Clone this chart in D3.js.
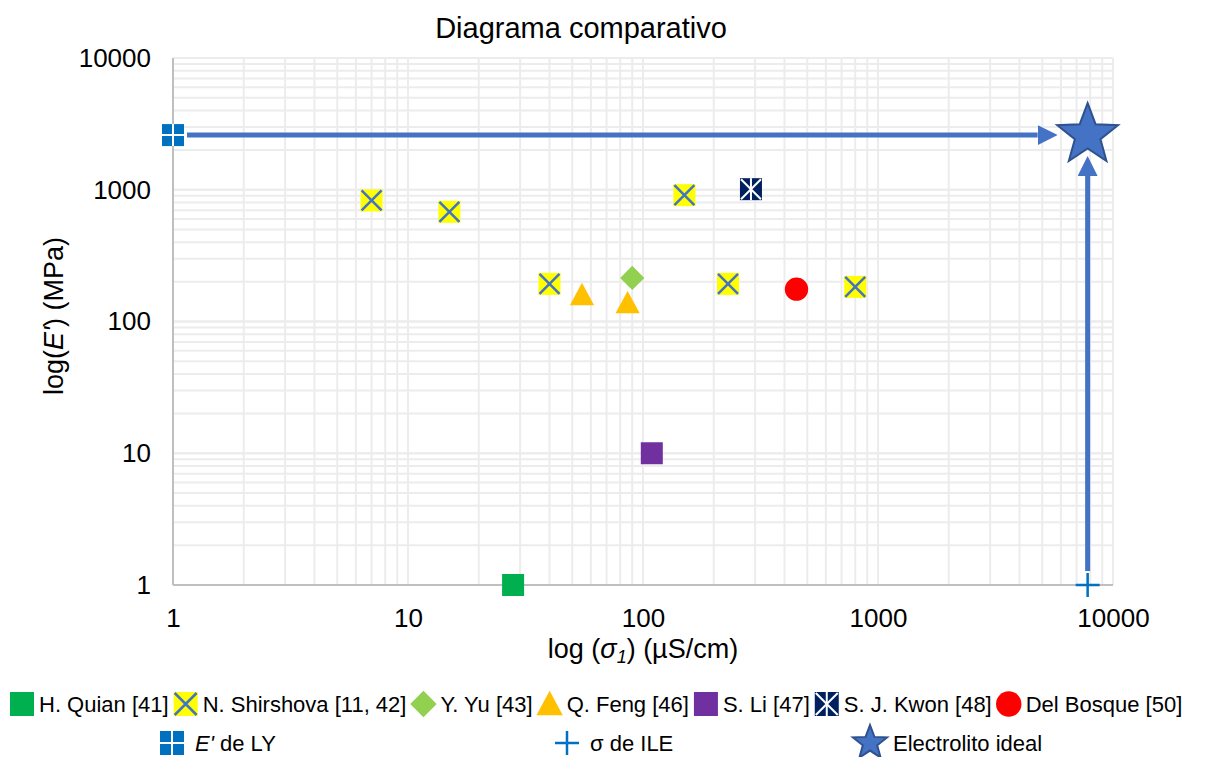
<!DOCTYPE html>
<html lang="es">
  <head>
    <meta charset="utf-8">
    <title>Diagrama comparativo</title>
    <script src="https://cdn.jsdelivr.net/npm/d3@7"></script>
    <style>
      body { margin: 0; background: #fff; }
      text { font-family: "Liberation Sans", Arial, sans-serif; fill: #000; }
      .grid line { stroke: #ececec; stroke-width: 2; }
      .axisline { stroke: #bfbfbf; stroke-width: 2; }
    </style>
  </head>
  <body>
    <script>
      // data: conductivity (uS/cm) and modulus (MPa)
      var quianX = [28], quianY = [1];
      var shirshovaX = [7, 15, 40, 150, 230, 800];
      var shirshovaY = [830, 680, 193, 910, 193, 183];
      var yuX = [90], yuY = [214];
      var fengX = [55, 86], fengY = [159, 138];
      var liX = [109], liY = [10];
      var kwonX = [288], kwonY = [1010];
      var bosqueX = [450], bosqueY = [176];
      var lyX = [1], lyY = [2600];
      var ileX = [7800], ileY = [1];
      var idealX = [7800], idealY = [2600];

      var xTicks = [1, 10, 100, 1000, 10000];
      var yTicks = [1, 10, 100, 1000, 10000];

      var w = 1212, h = 757;
      var pLeft = 173, pRight = 1113, pTop = 58, pBottom = 585;

      var svg = d3.select("body").append("svg")
                  .attr("width", w)
                  .attr("height", h);

      var xScale = d3.scaleLog().domain([1, 10000]).range([pLeft, pRight]);
      var yScale = d3.scaleLog().domain([1, 10000]).range([pBottom, pTop]);

      // minor + major grid
      var minor = [];
      for (var d = 1; d < 10000; d *= 10) {
        for (var k = 1; k <= 10; k++) minor.push(d * k);
      }
      var grid = svg.append("g").attr("class", "grid");
      grid.selectAll("line.vx")
          .data(minor)
          .enter().append("line")
          .attr("class", "vx")
          .attr("x1", function (d) { return xScale(d); })
          .attr("x2", function (d) { return xScale(d); })
          .attr("y1", pTop).attr("y2", pBottom);
      grid.selectAll("line.hy")
          .data(minor)
          .enter().append("line")
          .attr("class", "hy")
          .attr("y1", function (d) { return yScale(d); })
          .attr("y2", function (d) { return yScale(d); })
          .attr("x1", pLeft).attr("x2", pRight);

      // axes
      var xAxis = d3.axisBottom(xScale).tickValues(xTicks).tickFormat(d3.format("d")).tickSize(0).tickPadding(24);
      var yAxis = d3.axisLeft(yScale).tickValues(yTicks).tickFormat(d3.format("d")).tickSize(0).tickPadding(22);
      var gx = svg.append("g").attr("transform", "translate(0," + pBottom + ")").call(xAxis);
      var gy = svg.append("g").attr("transform", "translate(" + pLeft + ",0)").call(yAxis);
      [gx, gy].forEach(function (g) {
        g.select(".domain").remove();
        g.selectAll("text").attr("font-size", 26).attr("font-family", "Liberation Sans, Arial, sans-serif").attr("fill", "#000");
      });
      svg.append("line").attr("class", "axisline")
         .attr("x1", pLeft).attr("x2", pLeft).attr("y1", pTop).attr("y2", pBottom);
      svg.append("line").attr("class", "axisline")
         .attr("x1", pLeft).attr("x2", pRight).attr("y1", pBottom).attr("y2", pBottom);

      // titles
      svg.append("text").attr("x", 581).attr("y", 38)
         .attr("text-anchor", "middle").attr("font-size", 29)
         .text("Diagrama comparativo");

      var xt = svg.append("text").attr("x", 643).attr("y", 658)
                  .attr("text-anchor", "middle").attr("font-size", 27);
      xt.append("tspan").text("log (");
      xt.append("tspan").attr("font-style", "italic").text("σ");
      xt.append("tspan").attr("font-style", "italic").attr("font-size", 18).attr("dy", 5).text("1");
      xt.append("tspan").attr("dy", -5).text(") (µS/cm)");

      var yt = svg.append("text")
                  .attr("transform", "translate(63,316) rotate(-90)")
                  .attr("text-anchor", "middle").attr("font-size", 27);
      yt.append("tspan").text("log(");
      yt.append("tspan").attr("font-style", "italic").text("E'");
      yt.append("tspan").text(") (MPa)");

      // arrows
      var blue = "#4472C4";
      var defs = svg.append("defs");
      defs.append("marker").attr("id", "head")
          .attr("viewBox", "0 0 10 10").attr("refX", 0).attr("refY", 5)
          .attr("markerWidth", 20).attr("markerHeight", 20)
          .attr("markerUnits", "userSpaceOnUse").attr("orient", "auto")
          .append("path").attr("d", "M0,0 L10,5 L0,10 Z").attr("fill", blue);

      svg.append("line")
         .attr("x1", xScale(lyX[0]) + 14).attr("y1", yScale(lyY[0]))
         .attr("x2", xScale(idealX[0]) - 50).attr("y2", yScale(idealY[0]))
         .attr("stroke", blue).attr("stroke-width", 5).attr("marker-end", "url(#head)");
      svg.append("line")
         .attr("x1", xScale(ileX[0])).attr("y1", yScale(ileY[0]) - 14)
         .attr("x2", xScale(idealX[0])).attr("y2", yScale(idealY[0]) + 41)
         .attr("stroke", blue).attr("stroke-width", 5).attr("marker-end", "url(#head)");

      // marker painters
      function square(g, s, fill) {
        g.append("rect").attr("x", -s / 2).attr("y", -s / 2).attr("width", s).attr("height", s).attr("fill", fill);
      }
      function cross(g, s, col, sw) {
        var a = s / 2 - 1;
        g.append("path").attr("d", "M" + (-a) + "," + (-a) + "L" + a + "," + a + "M" + (-a) + "," + a + "L" + a + "," + (-a))
         .attr("stroke", col).attr("stroke-width", sw);
      }
      var painters = {
        quian: function (g, s) { square(g, s, "#00B050"); },
        shirshova: function (g, s) { square(g, s, "#FFFF00"); cross(g, s, blue, 2.5); },
        yu: function (g, s) {
          var r = s * 0.55;
          g.append("path").attr("d", "M0," + (-r) + "L" + r + ",0L0," + r + "L" + (-r) + ",0Z").attr("fill", "#92D050");
        },
        feng: function (g, s) {
          var r = s * 0.55;
          g.append("path").attr("d", "M0," + (-r) + "L" + r + "," + r * 0.85 + "L" + (-r) + "," + r * 0.85 + "Z").attr("fill", "#FFC000");
        },
        li: function (g, s) { square(g, s, "#7030A0"); },
        kwon: function (g, s) {
          square(g, s, "#002060"); cross(g, s, "#fff", 2);
          g.append("line").attr("x1", 0).attr("x2", 0).attr("y1", -s / 2).attr("y2", s / 2).attr("stroke", "#fff").attr("stroke-width", 2);
        },
        bosque: function (g, s) { g.append("circle").attr("r", s * 0.53).attr("fill", "#FF0000"); },
        ly: function (g, s) {
          square(g, s, "#0070C0");
          g.append("path").attr("d", "M0," + (-s / 2) + "V" + s / 2 + "M" + (-s / 2) + ",0H" + s / 2).attr("stroke", "#fff").attr("stroke-width", 2);
        },
        ile: function (g, s) {
          var a = s / 2;
          g.append("path").attr("d", "M0," + (-a) + "V" + a + "M" + (-a) + ",0H" + a).attr("stroke", "#0070C0").attr("stroke-width", 2.5);
        },
        ideal: function (g, s) {
          var pts = [];
          for (var i = 0; i < 10; i++) {
            var r = i % 2 === 0 ? s : s * 0.42;
            var ang = -Math.PI / 2 + i * Math.PI / 5;
            pts.push([r * Math.cos(ang), r * Math.sin(ang)]);
          }
          g.append("path").attr("d", d3.line()(pts) + "Z").attr("fill", blue).attr("stroke", "#2F528F").attr("stroke-width", 2);
        }
      };

      var series = [
        { key: "quian", name: "H. Quian [41]", x: quianX, y: quianY, size: 22 },
        { key: "shirshova", name: "N. Shirshova [11, 42]", x: shirshovaX, y: shirshovaY, size: 22 },
        { key: "yu", name: "Y. Yu [43]", x: yuX, y: yuY, size: 22 },
        { key: "feng", name: "Q. Feng [46]", x: fengX, y: fengY, size: 22 },
        { key: "li", name: "S. Li [47]", x: liX, y: liY, size: 22 },
        { key: "kwon", name: "S. J. Kwon [48]", x: kwonX, y: kwonY, size: 22 },
        { key: "bosque", name: "Del Bosque [50]", x: bosqueX, y: bosqueY, size: 22 },
        { key: "ly", name: "E' de LY", x: lyX, y: lyY, size: 22 },
        { key: "ile", name: "σ de ILE", x: ileX, y: ileY, size: 24 },
        { key: "ideal", name: "Electrolito ideal", x: idealX, y: idealY, size: 32 }
      ];

      var pts = svg.append("g");
      series.forEach(function (s) {
        var data = s.x.map(function (v, i) { return [v, s.y[i]]; });
        pts.selectAll("g." + s.key)
           .data(data)
           .enter().append("g")
           .attr("class", s.key)
           .attr("transform", function (d) { return "translate(" + xScale(d[0]) + "," + yScale(d[1]) + ")"; })
           .each(function () { painters[s.key](d3.select(this), s.size); });
      });

      // legend row 1: laid out one after another
      var lg = svg.append("g");
      var cx = 10;
      series.slice(0, 7).forEach(function (s) {
        var ms = 24;
        var g = lg.append("g").attr("transform", "translate(" + (cx + ms / 2) + ",704)");
        painters[s.key](g, ms);
        var t = lg.append("text").attr("x", cx + ms + 5).attr("y", 712).attr("font-size", 22).text(s.name);
        cx += ms + 5 + t.node().getComputedTextLength() + 5;
      });

      // legend row 2: three fixed columns
      var row2 = [{ s: series[7], x: 172 }, { s: series[8], x: 567 }, { s: series[9], x: 870 }];
      row2.forEach(function (r) {
        var g = lg.append("g").attr("transform", "translate(" + r.x + ",743)");
        painters[r.s.key](g, r.s.key === "ideal" ? 18 : 24);
        var t = lg.append("text").attr("x", r.x + 23).attr("y", 751).attr("font-size", 22);
        if (r.s.key === "ly") {
          t.append("tspan").attr("font-style", "italic").text("E'");
          t.append("tspan").text(" de LY");
        } else {
          t.text(r.s.name);
        }
      });
    </script>
  </body>
</html>
